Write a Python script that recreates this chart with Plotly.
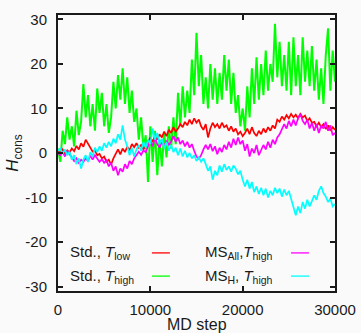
import plotly.graph_objects as go

steps = list(range(0, 30001, 250))

std_low = [0.5, 0, 0.8, -0.2, 0.6, 0.1, 1, 0.4, 1.6, 0.8, 2.2, 1.4, 3, 2, 1.2, 0.3, 0.6, -0.5, -0.2, -1.2,
           -0.8, -2, -1.5, -2.6, -1.2, -0.2, 0.8, -0.3, 1, 0.2, 1.4, 0.6, 2, 1.3, 2.2, 1.2, 1.8, 0.8, 1.5, 2.5,
           3.5, 2.5, 3.8, 3, 4.2, 3.5, 4.8, 3.8, 5.2, 4.5, 5.8, 4.8, 5.5, 6.5, 5.8, 7, 6.2, 7.5, 6.5, 7.8,
           6.8, 7.5, 6, 5.2, 6.5, 3.5, 5.5, 6.8, 5.8, 6.5, 5.5, 6.8, 5.8, 6.2, 5, 6, 4.8, 5.5, 4.2, 4.8,
           3.8, 4.5, 5.5, 4.2, 5.8, 4.5, 3.8, 5, 4.2, 5.5, 4.6, 5.8, 5, 6.2, 5.5, 7.5, 7, 8.2, 7.5, 8.5,
           7.8, 8.8, 8, 8.6, 7.8, 8.8, 8, 8.4, 7.2, 7.8, 6.8, 7, 6, 6.8, 5.8, 6.5, 5.4, 6.2, 5, 5.8, 5.2]

std_high = [1, -2, 5, 2, 8, 3, 6, 1.5, 9.5, 4, 7, 15.5, 8, 13, 6, 11, 5, 14.5, 9, 13.5,
            6, 11, 4.5, 8, 16, 10, 17.5, 12, 19, 11, 17, 9, 14, 7, 10, 3, 8, 1, 4, -6.5,
            6, -2, 5, -5, 3, -3, 4.5, -1, 6, 1, 8, 2, 13.5, 6, 15, 8, 14, 9, 21, 13,
            27, 15, 22, 11, 17, 10, 20, 12, 19, 11, 18, 12, 22, 14, 21, 11, 18, 9, 13, 6,
            10, 5, 15, 8, 19, 11, 21.5, 12, 20, 13, 23, 14, 20, 16, 29, 17, 25, 15, 22, 14,
            25, 13, 26, 15, 22, 13, 26, 16, 23, 15, 24, 14, 21, 12, 19, 11, 22, 28, 14, 23, 16]

ms_all_high = [0, -0.5, 0.3, -0.8, 0.5, -0.3, -1, -1.8, -1.2, -2.2, -1.5, -2, -1.2, -1.8, -0.6, -1.5, -0.5, -1.2, -2, -1.4,
               -2.2, -1.6, -3, -2.2, -4, -3, -5, -3.5, -4.2, -2.5, -3.5, -1.8, -2.5, -1.2, -0.5, 0.3, -0.4, 0.6, 0.2, 1.5,
               2.8, 1.5, 3.5, 2, 1.2, 2.5, 1.5, 2.8, 1.8, 2.6, 3.8, 2.5, 3.5, 2, 2.8, 1.5, 2.5, 1.2, 2, 0.5,
               -0.8, -1.3, -0.5, 0.8, 1.8, 0.8, 2, 0.4, 1.5, -0.3, 1.2, 0.2, 1.8, 0.8, 2.5, 1.2, 3.2, 1.8, 3.5, 2,
               2.8, 0.5, 2, -0.8, 1, 0, 1.8, -0.5, 0.5, 1.8, 0.8, 2.5, 1.2, 3, 2, 3.5, 4.2, 5.5, 6.5, 5.5,
               7.2, 6, 7.5, 6.2, 7.8, 8.8, 7.2, 6.5, 7.5, 5.5, 6.8, 5, 6.5, 4.5, 6.2, 5.5, 7, 5, 6.2, 4, 4.5]

ms_h_high = [0.5, 1, -0.2, 0.8, -0.5, 0.3, -1.5, -0.5, -2.5, -1.2, -3.5, -1.5, -0.5, -2, 0.2, -0.8, 1.2, 0.2, 1.5, 0.5,
             2.2, 1.2, 2.5, 1.5, 3.2, 2.2, 4.2, 3, 6.2, 3, 1.5, -0.5, 1.2, -0.8, 0.8, 1.8, 0.5, 2.5, 1.2, 3,
             2, 5.5, 3, 4.5, 2, 3.2, 1, 2.5, 0.5, 1.8, 0.2, 1.2, -0.5, 1, -0.8, 0.5, -1, 0, -1.2, -0.5,
             -1.8, -1, -2, -1.2, -2.5, -4, -3, -6, -4, -5, -2.8, -4.2, -2.5, -3.8, -3, -4.2, -2.8, -3.5, -4.8, -4,
             -6, -7.5, -6, -8, -6.5, -8.8, -7.5, -9.2, -7.8, -9.5, -8, -10, -8.5, -9.5, -7.8, -9, -8, -9.8, -8.2, -9.5,
             -8.5, -10.5, -12, -14, -12, -13.5, -11, -12.5, -10.5, -12, -10.8, -9.5, -10.5, -8.5, -7.5, -9, -9.8, -11, -10.2, -12, -11.5]

x_ticks = [0, 10000, 20000, 30000]
y_ticks = [-30, -20, -10, 0, 10, 20, 30]

legend_labels = ["Std., <i>T</i><sub>low</sub>", "Std., <i>T</i><sub>high</sub>",
                 "MS<sub>All</sub>,<i>T</i><sub>high</sub>", "MS<sub>H</sub>, <i>T</i><sub>high</sub>"]
colors = ["#ff0000", "#00ff00", "#ff00ff", "#00ffff"]
widths = [1.7, 2.0, 1.7, 1.7]
series = [std_low, std_high, ms_all_high, ms_h_high]

FONT = "Liberation Sans, Arial, sans-serif"
TXT = "#1a1a1a"
fig = go.Figure()
order = [1, 0, 2, 3]
for k in order:
    fig.add_trace(go.Scatter(x=steps, y=series[k], mode="lines",
                             line=dict(color=colors[k], width=widths[k]),
                             name=legend_labels[k], showlegend=False))

# legend drawn as text + short line samples (gnuplot style: sample right of text)
legend_pos = [(0.036, 0.138, 0.339, 0.404), (0.036, 0.054, 0.339, 0.404),
              (0.523, 0.138, 0.841, 0.906), (0.523, 0.054, 0.841, 0.906)]
for k, (tx, ty, lx0, lx1) in enumerate(legend_pos):
    fig.add_annotation(x=tx, y=ty, xref="paper", yref="paper", text=legend_labels[k],
                       showarrow=False, xanchor="left", yanchor="middle",
                       font=dict(family=FONT, size=15, color=TXT))
    fig.add_shape(type="line", xref="paper", yref="paper", x0=lx0, x1=lx1, y0=ty, y1=ty,
                  line=dict(color=colors[k], width=1.3))

# x-axis title
fig.add_annotation(x=0.502, y=-0.12, xref="paper", yref="paper", text="MD step",
                   showarrow=False, xanchor="center", yanchor="middle",
                   font=dict(family=FONT, size=16, color=TXT))

axis_common = dict(showline=True, linecolor=TXT, linewidth=2, mirror="ticks",
                   ticks="inside", ticklen=5, tickwidth=1.5, tickcolor=TXT,
                   showgrid=False, zeroline=False, automargin=False,
                   tickfont=dict(family=FONT, size=15, color=TXT))

fig.update_layout(
    width=361, height=333,
    margin=dict(l=58, r=26, t=15, b=42),
    paper_bgcolor="#fafafa", plot_bgcolor="#fafafa",
    xaxis=dict(range=[0, 30000], tickvals=x_ticks, ticktext=[str(v) for v in x_ticks],
               ticklabelstandoff=4, **axis_common),
    yaxis=dict(range=[-31, 31], tickvals=y_ticks, ticktext=[str(v) for v in y_ticks],
               title=dict(text="<i>H</i><sub>cons</sub>", standoff=2, font=dict(family=FONT, size=17, color=TXT)),
               ticklabelstandoff=6, **axis_common),
)

fig.write_html("out.html")
